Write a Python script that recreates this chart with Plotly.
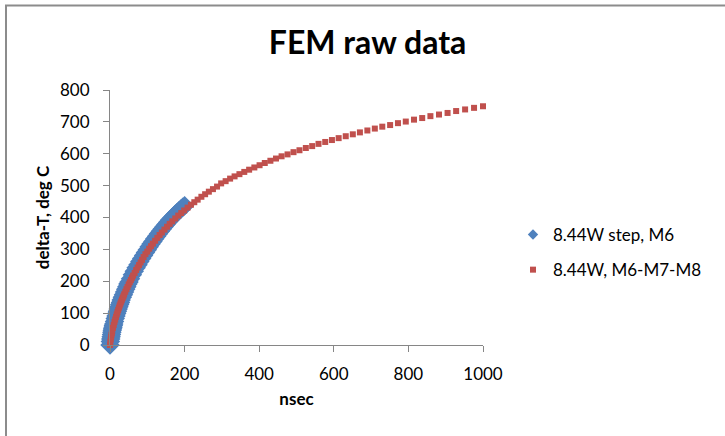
import plotly.graph_objects as go

# Series 1: 8.44W step, M6 (nsec, delta-T in deg C)
step_t = [0, 1, 2, 3, 4, 5, 6, 7, 8, 9, 10, 12, 14, 16, 18, 20, 22, 24, 26, 28, 30, 33,
          36, 39, 42, 45, 48, 51, 55, 60, 65, 70, 75, 80, 85, 90, 95, 100, 105, 110, 115,
          120, 125, 130, 135, 140, 145, 150, 155, 160, 165, 170, 175, 180, 185, 190, 195,
          200]
step_dT = [0, 11, 19, 26, 33, 40, 46, 51, 56, 61, 66, 74, 83, 91, 99, 106, 113, 120, 127,
           133, 141, 150, 158, 166, 175, 183, 191, 198, 208, 220, 231, 242, 252, 262, 271,
           281, 290, 299, 308, 317, 325, 333, 341, 349, 357, 364, 371, 378, 385, 392, 398,
           404, 410, 416, 421, 427, 432, 437]

# Series 2: 8.44W, M6-M7-M8 (nsec, delta-T in deg C)
stack_t = [0, 1, 2, 3, 4, 5, 6, 8, 10, 12, 14, 16, 18, 20, 22, 24, 26, 28, 30, 32, 34, 36,
           38, 41, 44, 47, 50, 53, 56, 59, 62, 66, 70, 74, 78, 82, 86, 90, 95, 100, 105,
           110, 115, 121, 127, 133, 139, 146, 153, 160, 167, 175, 183, 191, 199, 208, 217,
           226, 235, 245, 255, 265, 276, 287, 298, 310, 322, 334, 347, 360, 373, 387, 401,
           415, 430, 445, 460, 476, 492, 508, 525, 542, 559, 577, 595, 613, 632, 651, 670,
           690, 710, 730, 751, 772, 793, 815, 837, 859, 882, 905, 928, 952, 976, 1000]
stack_dT = [0, 10, 18, 25, 32, 38, 44, 54, 63, 72, 80, 88, 96, 103, 110, 117, 124, 130, 136,
            142, 148, 153, 159, 167, 175, 182, 190, 197, 204, 211, 218, 226, 235, 243, 251,
            259, 267, 276, 285, 293, 302, 310, 318, 327, 336, 345, 353, 362, 371, 380, 388,
            397, 406, 414, 422, 431, 440, 448, 456, 465, 473, 481, 489, 497, 507, 514, 522,
            529, 536, 543, 550, 557, 564, 571, 578, 585, 592, 598, 605, 611, 618, 624, 631,
            637, 643, 649, 655, 661, 667, 673, 679, 685, 690, 696, 701, 707, 712, 718, 723,
            728, 734, 739, 744, 749]

names = ["8.44W step, M6", "8.44W, M6-M7-M8"]
colors = ["#4F81BD", "#C0504D"]

x_ticks = [0, 200, 400, 600, 800, 1000]
y_ticks = [0, 100, 200, 300, 400, 500, 600, 700, 800]

FONT = "Lato, 'Open Sans', sans-serif"
AXIS_GRAY = "#868686"

fig = go.Figure()

# dense band of large diamonds for the step series
fig.add_trace(go.Scatter(
    x=step_t, y=step_dT, mode="markers", name=names[0],
    legendgroup="step", showlegend=False, cliponaxis=False,
    marker=dict(symbol="diamond", size=15, color=colors[0], line=dict(width=0)),
))
# legend entry for the step series with a compact diamond
fig.add_trace(go.Scatter(
    x=[None], y=[None], mode="markers", name=names[0],
    legendgroup="step", showlegend=True,
    marker=dict(symbol="diamond", size=8, color=colors[0], line=dict(width=0)),
))
fig.add_trace(go.Scatter(
    x=stack_t, y=stack_dT, mode="markers", name=names[1],
    legendgroup="stack", cliponaxis=False,
    marker=dict(symbol="square", size=6, color=colors[1], line=dict(width=0)),
))

L, R, T, B = 110, 242, 90, 91
W, H = 725, 436
plot_w = W - L - R
plot_h = H - T - B

axis_common = dict(
    showline=True, linecolor=AXIS_GRAY, linewidth=1,
    ticks="outside", ticklen=6, tickcolor=AXIS_GRAY, tickwidth=1,
    showgrid=False, zeroline=False,
    tickfont=dict(family=FONT, size=17, color="#000000"),
)

fig.update_layout(
    width=W, height=H,
    margin=dict(l=L, r=R, t=T, b=B, autoexpand=False),
    paper_bgcolor="white", plot_bgcolor="white",
    title=dict(
        text="FEM raw data",
        font=dict(family=FONT, size=32, color="#000000", weight="bold"),
        x=0.507, xanchor="center", xref="container",
        y=1 - 43 / H, yanchor="middle", yref="container",
    ),
    xaxis=dict(
        range=[0, 1000], tickvals=x_ticks, ticklabelstandoff=8,
        title=dict(text="nsec", standoff=9,
                   font=dict(family=FONT, size=17, color="#000000", weight="bold")),
        **axis_common,
    ),
    yaxis=dict(
        range=[0, 800], tickvals=y_ticks, ticklabelstandoff=10,
        title=dict(text="delta-T, deg C", standoff=6,
                   font=dict(family=FONT, size=17, color="#000000", weight="bold")),
        **axis_common,
    ),
    legend=dict(
        x=(513 - L) / plot_w, xanchor="left",
        y=(H - B - 252.5) / plot_h, yanchor="middle",
        font=dict(family=FONT, size=17, color="#000000"),
        bgcolor="rgba(0,0,0,0)", tracegroupgap=10,
    ),
    showlegend=True,
)

# chart frame
fig.add_shape(
    type="rect", xref="paper", yref="paper",
    x0=(6 - L) / plot_w, x1=2.0,
    y0=-1.0, y1=1 + (T - 5.5) / plot_h,
    line=dict(color="#8C8C8C", width=2), fillcolor="rgba(0,0,0,0)", layer="below",
)

fig.write_html("out.html")
